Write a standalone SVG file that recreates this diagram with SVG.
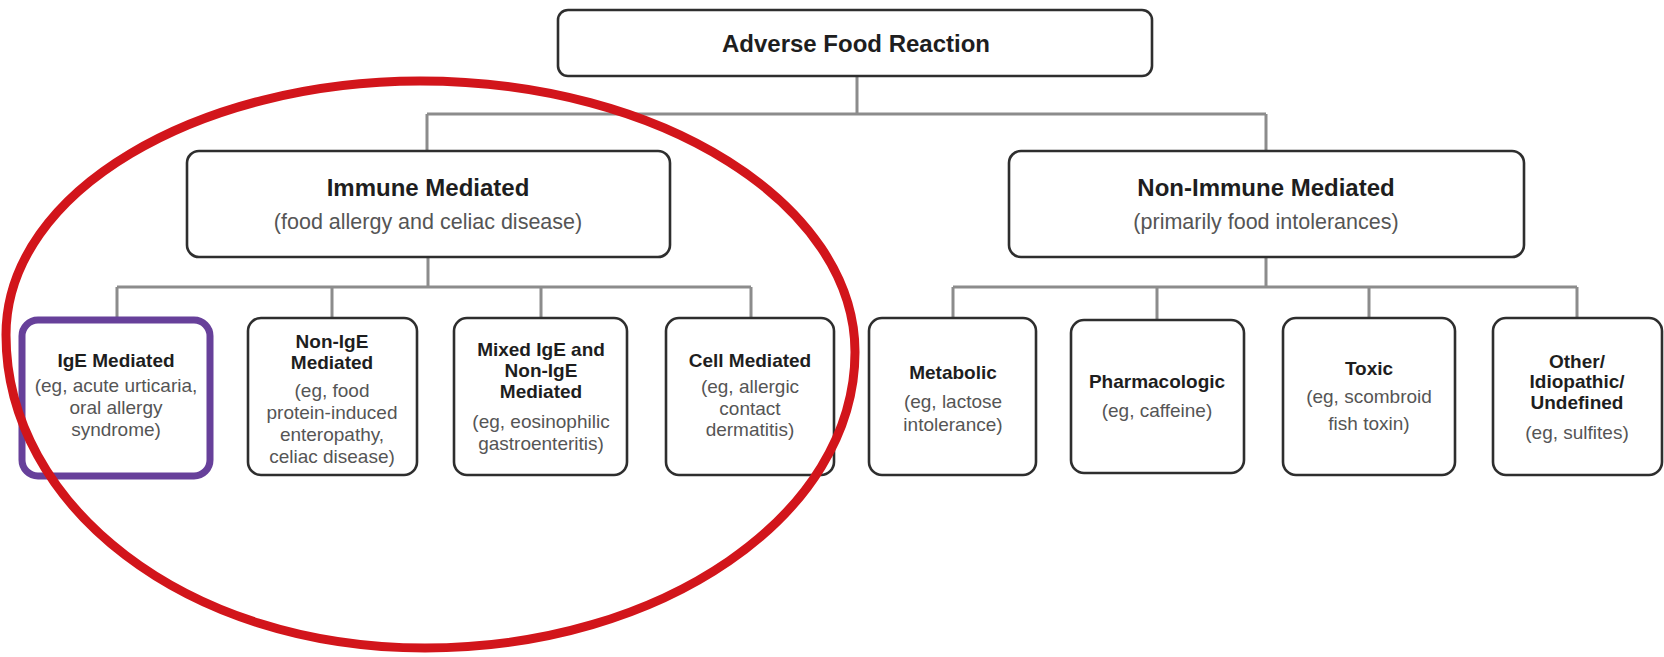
<svg xmlns="http://www.w3.org/2000/svg" width="1664" height="657" viewBox="0 0 1664 657">
<style>
.box{fill:#fff;stroke:#2e2e2e;stroke-width:2.6}
.conn{fill:none;stroke:#8c8c8c;stroke-width:3}
.t{font-family:"Liberation Sans",Arial,sans-serif;text-anchor:middle}
.h{font-weight:bold;fill:#1e1e1e}
.d{fill:#555}
.s19{font-size:19px}
</style>
<rect width="1664" height="657" fill="#fff"/>
<g id="connectors">
<path class="conn" d="M857 76V114M427 114H1266M427 114V151M1266 114V151"/>
<path class="conn" d="M428 257V287M117 287H751M117 287V318M332 287V318M541 287V318M751 287V318"/>
<path class="conn" d="M1266 257V287M953 287H1577M953 287V318M1157 287V320M1369 287V318M1577 287V318"/>
</g>
<g id="adverse">
<rect class="box" x="558" y="10" width="594" height="66" rx="10"/>
<text class="t h" x="856" y="52" font-size="24">Adverse Food Reaction</text>
</g>
<g id="immune">
<rect class="box" x="187" y="151" width="483" height="106" rx="12"/>
<text class="t h" x="428" y="196" font-size="24">Immune Mediated</text>
<text class="t d" x="428" y="229" font-size="21.5">(food allergy and celiac disease)</text>
</g>
<g id="nonimmune">
<rect class="box" x="1009" y="151" width="515" height="106" rx="12"/>
<text class="t h" x="1266" y="196" font-size="24">Non-Immune Mediated</text>
<text class="t d" x="1266" y="229" font-size="21.5">(primarily food intolerances)</text>
</g>
<g id="ige">
<rect x="22" y="320" width="188" height="156" rx="16" fill="#fff" stroke="#67409a" stroke-width="7"/>
<text class="t h s19" x="116" y="367">IgE Mediated</text>
<text class="t d s19" x="116" y="392">(eg, acute urticaria,</text>
<text class="t d s19" x="116" y="414">oral allergy</text>
<text class="t d s19" x="116" y="436">syndrome)</text>
</g>
<g id="nonige">
<rect class="box" x="248" y="318" width="169" height="157" rx="13"/>
<text class="t h s19" x="332" y="348">Non-IgE</text>
<text class="t h s19" x="332" y="369">Mediated</text>
<text class="t d s19" x="332" y="397">(eg, food</text>
<text class="t d s19" x="332" y="419">protein-induced</text>
<text class="t d s19" x="332" y="441">enteropathy,</text>
<text class="t d s19" x="332" y="463">celiac disease)</text>
</g>
<g id="mixed">
<rect class="box" x="454" y="318" width="173" height="157" rx="13"/>
<text class="t h s19" x="541" y="356">Mixed IgE and</text>
<text class="t h s19" x="541" y="377">Non-IgE</text>
<text class="t h s19" x="541" y="398">Mediated</text>
<text class="t d s19" x="541" y="428">(eg, eosinophilic</text>
<text class="t d s19" x="541" y="450">gastroenteritis)</text>
</g>
<g id="cell">
<rect class="box" x="666" y="318" width="168" height="157" rx="13"/>
<text class="t h s19" x="750" y="367">Cell Mediated</text>
<text class="t d s19" x="750" y="393">(eg, allergic</text>
<text class="t d s19" x="750" y="415">contact</text>
<text class="t d s19" x="750" y="436">dermatitis)</text>
</g>
<g id="metabolic">
<rect class="box" x="869" y="318" width="167" height="157" rx="13"/>
<text class="t h s19" x="953" y="379">Metabolic</text>
<text class="t d s19" x="953" y="408">(eg, lactose</text>
<text class="t d s19" x="953" y="431">intolerance)</text>
</g>
<g id="pharmacologic">
<rect class="box" x="1071" y="320" width="173" height="153" rx="13"/>
<text class="t h s19" x="1157" y="388">Pharmacologic</text>
<text class="t d s19" x="1157" y="417">(eg, caffeine)</text>
</g>
<g id="toxic">
<rect class="box" x="1283" y="318" width="172" height="157" rx="13"/>
<text class="t h s19" x="1369" y="375">Toxic</text>
<text class="t d s19" x="1369" y="403">(eg, scombroid</text>
<text class="t d s19" x="1369" y="430">fish toxin)</text>
</g>
<g id="other">
<rect class="box" x="1493" y="318" width="169" height="157" rx="13"/>
<text class="t h s19" x="1577" y="368">Other/</text>
<text class="t h s19" x="1577" y="388">Idiopathic/</text>
<text class="t h s19" x="1577" y="409">Undefined</text>
<text class="t d s19" x="1577" y="439">(eg, sulfites)</text>
</g>
<g id="highlight">
<path d="M420 81C662 81 855 205 855 352C855 515 662 648 425 648C185 648 6 505 6 335C6 190 200 81 420 81Z" fill="none" stroke="#d2151b" stroke-width="9"/>
</g>
</svg>
